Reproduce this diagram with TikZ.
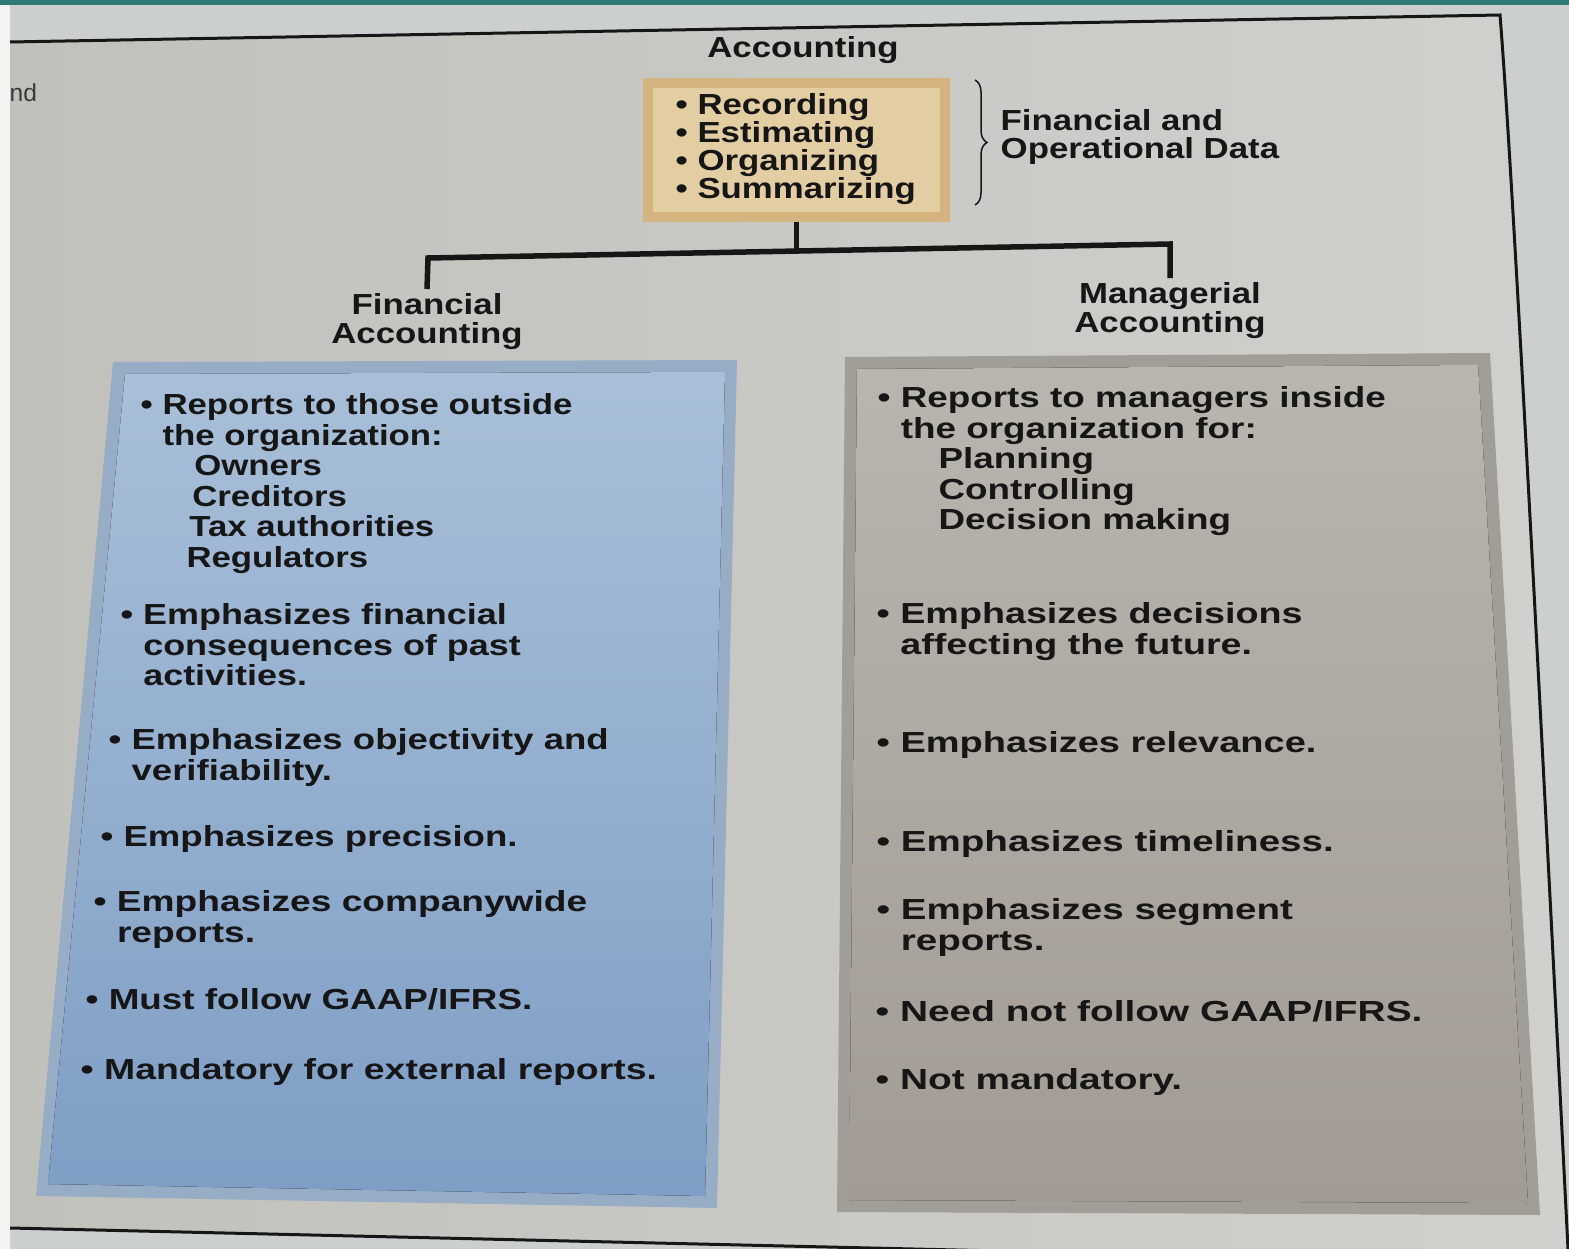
\documentclass[tikz,border=0pt]{standalone}
\usepackage{fontspec}
\setmainfont{Liberation Sans}[FakeStretch=1.2]
\newfontfamily\pagefont{Liberation Sans}
\usetikzlibrary{calc,decorations.pathreplacing}
\definecolor{inkcol}{HTML}{161616}
\definecolor{stripcol}{HTML}{2F7A72}
\definecolor{margincol}{HTML}{F3F3F3}
\definecolor{outercol}{HTML}{CCCFD0}
\definecolor{pageleft}{HTML}{C0C1BB}
\definecolor{pageright}{HTML}{D0D1CD}
\definecolor{taskfill}{HTML}{E3CEA4}
\definecolor{taskedge}{HTML}{D4B37F}
\definecolor{finedge}{HTML}{97ADC6}
\definecolor{fintop}{HTML}{A9BFD9}
\definecolor{finbot}{HTML}{7E9EC5}
\definecolor{manedge}{HTML}{A19D97}
\definecolor{mantop}{HTML}{B9B5AF}
\definecolor{manbot}{HTML}{A19B93}
\newcommand{\bsp}{\hphantom{\textbullet\ }}
\begin{document}
\begin{tikzpicture}[x=0.1mm,y=-0.1mm,
  every node/.style={inner sep=0pt,text=inkcol},
  txt/.style={font=\fontsize{8.25}{8.68}\selectfont\bfseries\addfontfeatures{FakeStretch=#1},align=left,anchor=north west},
  txt/.default=1.2,
  tasktxt/.style={txt,font=\fontsize{8.25}{7.97}\selectfont\bfseries},
  head/.style={font=\fontsize{8.25}{8.4}\selectfont\bfseries,align=center,anchor=north,outer sep=0.4mm},
  tree/.style={line width=0.55mm,draw=inkcol},
  frame/.style={line width=0.3mm,draw=inkcol}]
\useasboundingbox (0,0) rectangle (1569,1249);
% page
\fill[margincol] (0,0) rectangle (1569,1249);
\fill[outercol] (10,5) rectangle (1569,1249);
\fill[stripcol] (0,0) rectangle (1569,5);
\fill[left color=pageleft,right color=pageright] (10,42) -- (1500,15) .. controls (1510,140) and (1530,500) .. (1568,1249) -- (914,1249) -- (10,1228) -- cycle;
\draw[frame] (10,42) -- (1500,15) .. controls (1510,140) and (1530,500) .. (1568,1249);
\draw[frame] (10,1228) -- (1000,1251);
\node[font=\pagefont\fontsize{7}{8}\selectfont,anchor=west,text=inkcol!85] (cut) at (9,93) {nd};
% boxes
\fill[finedge] (113,362) -- (737,360) -- (717,1208) -- (36,1196) -- cycle;
\fill[top color=fintop,bottom color=finbot] (125,374) -- (725,372) -- (705,1196) -- (48,1184) -- cycle;
\fill[manedge] (845,357) -- (1490,353) -- (1540,1215) -- (837,1212) -- cycle;
\fill[top color=mantop,bottom color=manbot] (857,369) -- (1478,365) -- (1528,1203) -- (849,1200) -- cycle;
% top
\node[head,outer sep=0pt] (acct) at (803,36) {Accounting};
\node[draw=taskedge,fill=taskfill,line width=1mm,minimum width=29.7mm,minimum height=13.4mm] (tasks) at (796.5,150) {};
\node[tasktxt] (steps) at (675,93) {\textbullet\ Recording\\\textbullet\ Estimating\\\textbullet\ Organizing\\\textbullet\ Summarizing};
\draw[line width=0.15mm,inkcol,decorate,decoration={brace,amplitude=1.2mm}] (975,80) -- (975,205);
\node[tasktxt] (data) at (1000,109) {Financial and\\Operational Data};
\node[head] (fin) at (427,289) {Financial\\Accounting};
\node[head] (man) at (1170,278) {Managerial\\Accounting};
\coordinate (jl) at (428,258);
\coordinate (jr) at (1170,244);
\coordinate (jm) at ($(jl)!0.5!(jr)$);
\draw[tree] (tasks.south) -- (tasks.south |- jm);
\draw[tree] (fin.north) -- (jl) -- (jr) -- (man.north);
% financial
\node[txt] (f1) at (140,393) {\textbullet\ Reports to those outside\\\bsp the organization:\\\hspace*{1.85em}Owners\\\hspace*{1.78em}Creditors\\\hspace*{1.68em}Tax authorities\\\hspace*{1.58em}Regulators};
\node[txt=1.24] (f2) at (120,603) {\textbullet\ Emphasizes financial\\\bsp consequences of past\\\bsp activities.};
\node[txt=1.26] (f3) at (108,728) {\textbullet\ Emphasizes objectivity and\\\bsp verifiability.};
\node[txt=1.26] (f4) at (100,825) {\textbullet\ Emphasizes precision.};
\node[txt=1.28] (f5) at (93,890) {\textbullet\ Emphasizes companywide\\\bsp reports.};
\node[txt=1.27] (f6) at (85,988) {\textbullet\ Must follow GAAP/IFRS.};
\node[txt=1.29] (f7) at (80,1058) {\textbullet\ Mandatory for external reports.};
% managerial
\node[txt=1.27] (m1) at (877,386) {\textbullet\ Reports to managers inside\\\bsp the organization for:\\\hspace*{2.1em}Planning\\\hspace*{2.1em}Controlling\\\hspace*{2.1em}Decision making};
\node[txt=1.30] (m2) at (876,602) {\textbullet\ Emphasizes decisions\\\bsp affecting the future.};
\node[txt=1.31] (m3) at (876,731) {\textbullet\ Emphasizes relevance.};
\node[txt=1.33] (m4) at (876,830) {\textbullet\ Emphasizes timeliness.};
\node[txt=1.33] (m5) at (876,898) {\textbullet\ Emphasizes segment\\\bsp reports.};
\node[txt=1.34] (m6) at (875,1000) {\textbullet\ Need not follow GAAP/IFRS.};
\node[txt=1.34] (m7) at (875,1068) {\textbullet\ Not mandatory.};
\end{tikzpicture}
\end{document}
